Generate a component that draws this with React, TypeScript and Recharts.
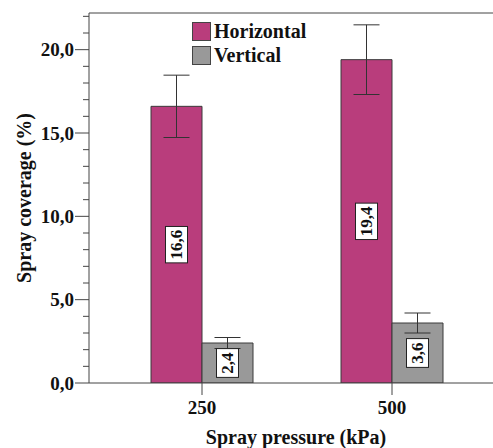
import React from "react";
import {
  BarChart,
  Bar,
  XAxis,
  YAxis,
  ErrorBar,
  LabelList,
  Legend,
  Label,
  ReferenceLine,
} from "recharts";

const PRESSURES = ["250", "500"];
const HORIZONTAL = [16.6, 19.4];
const HORIZONTAL_ERR = [1.87, 2.09];
const VERTICAL = [2.4, 3.6];
const VERTICAL_ERR = [0.33, 0.6];

const Y_MAX = 22.2;
const Y_TICKS = [0, 1, 2, 3, 4, 5, 6, 7, 8, 9, 10, 11, 12, 13, 14, 15, 16, 17, 18, 19, 20, 21, 22];

const FONT = "'Liberation Serif', 'Times New Roman', serif";
const AXIS_COLOR = "#444";
const MAGENTA = "#B93D7C";
const GREY = "#999999";

const data = PRESSURES.map((p, i) => ({
  pressure: p,
  horizontal: HORIZONTAL[i],
  horizontalErr: HORIZONTAL_ERR[i],
  vertical: VERTICAL[i],
  verticalErr: VERTICAL_ERR[i],
}));

const fmt = (v: number) => v.toFixed(1).replace(".", ",");

// major ticks every 5 with a label, unlabeled minor ticks in between
const YTick = (props: any) => {
  const { x, y, payload } = props;
  const major = payload.value % 5 === 0;
  return (
    <g>
      <line x1={x - (major ? 14 : 6)} x2={x} y1={y} y2={y} stroke={AXIS_COLOR} strokeWidth={1} />
      {major && (
        <text
          x={x - 15}
          y={y}
          textAnchor="end"
          dominantBaseline="central"
          fontFamily={FONT}
          fontWeight="bold"
          fontSize={19}
          fill="#111"
        >
          {fmt(payload.value)}
        </text>
      )}
    </g>
  );
};

// boxed, rotated value label in the middle of each bar
const BoxLabel = (props: any) => {
  const { x, y, width, height, value } = props;
  const cx = x + width / 2;
  const cy = y + height / 2;
  const text = fmt(Number(value));
  const len = text.length * 7.6 + 6;
  return (
    <g>
      <rect
        x={cx - 11}
        y={cy - len / 2}
        width={22}
        height={len}
        fill="#fff"
        stroke="#222"
        strokeWidth={1}
      />
      <text
        x={cx}
        y={cy}
        transform={`rotate(-90 ${cx} ${cy})`}
        textAnchor="middle"
        dominantBaseline="central"
        fontFamily={FONT}
        fontWeight="bold"
        fontSize={17}
        fill="#111"
      >
        {text}
      </text>
    </g>
  );
};

const LegendContent = (props: any) => {
  const { payload = [] } = props;
  return (
    <div style={{ fontFamily: FONT, fontWeight: "bold", fontSize: 20, color: "#111" }}>
      {payload.map((entry: any) => (
        <div
          key={entry.value}
          style={{ display: "flex", alignItems: "center", height: 24, lineHeight: "24px" }}
        >
          <span
            style={{
              display: "inline-block",
              width: 17,
              height: 17,
              background: entry.color,
              border: "1px solid #444",
              marginRight: 3,
            }}
          />
          <span>{entry.value}</span>
        </div>
      ))}
    </div>
  );
};

export default function App() {
  return (
    <div style={{ position: "absolute", left: 0, top: 0, background: "#fff" }}>
      <BarChart
        width={493}
        height={448}
        data={data}
        margin={{ top: 13, right: 0, bottom: 0, left: 0 }}
        barGap={0}
      >
        <ReferenceLine y={Y_MAX} stroke={AXIS_COLOR} strokeWidth={1} />
        <XAxis
          dataKey="pressure"
          height={65}
          padding={{ left: 18, right: 6 }}
          axisLine={{ stroke: AXIS_COLOR, strokeWidth: 1 }}
          tickLine={{ stroke: AXIS_COLOR, strokeWidth: 1 }}
          tickSize={12}
          tickMargin={6}
          tick={{ fontFamily: FONT, fontWeight: "bold", fontSize: 19, fill: "#111" }}
        >
          <Label
            content={({ viewBox }: any) => (
              <text
                x={viewBox.x + viewBox.width / 2 + 5}
                y={444}
                textAnchor="middle"
                fontFamily={FONT}
                fontWeight="bold"
                fontSize={20}
                fill="#111"
              >
                Spray pressure (kPa)
              </text>
            )}
          />
        </XAxis>
        <YAxis
          width={89}
          domain={[0, Y_MAX]}
          ticks={Y_TICKS}
          interval={0}
          allowDataOverflow
          axisLine={{ stroke: AXIS_COLOR, strokeWidth: 1 }}
          tickLine={false}
          tickSize={0}
          tickMargin={0}
          tick={<YTick />}
        >
          <Label
            content={({ viewBox }: any) => {
              const cy = viewBox.y + viewBox.height / 2;
              return (
                <text
                  x={24}
                  y={cy}
                  transform={`rotate(-90 24 ${cy})`}
                  textAnchor="middle"
                  dominantBaseline="central"
                  fontFamily={FONT}
                  fontWeight="bold"
                  fontSize={20}
                  fill="#111"
                >
                  Spray coverage (%)
                </text>
              );
            }}
          />
        </YAxis>
        <Legend
          layout="vertical"
          align="center"
          verticalAlign="middle"
          wrapperStyle={{ left: 192, top: 19, width: "auto" }}
          content={<LegendContent />}
        />
        <Bar
          dataKey="horizontal"
          name="Horizontal"
          fill={MAGENTA}
          stroke="#3a3a3a"
          strokeWidth={1}
          barSize={51}
          isAnimationActive={false}
        >
          <ErrorBar dataKey="horizontalErr" width={13} stroke="#333" strokeWidth={1} direction="y" />
          <LabelList dataKey="horizontal" content={<BoxLabel />} />
        </Bar>
        <Bar
          dataKey="vertical"
          name="Vertical"
          fill={GREY}
          stroke="#3a3a3a"
          strokeWidth={1}
          barSize={51}
          isAnimationActive={false}
        >
          <ErrorBar dataKey="verticalErr" width={13} stroke="#333" strokeWidth={1} direction="y" />
          <LabelList dataKey="vertical" content={<BoxLabel />} />
        </Bar>
      </BarChart>
    </div>
  );
}
